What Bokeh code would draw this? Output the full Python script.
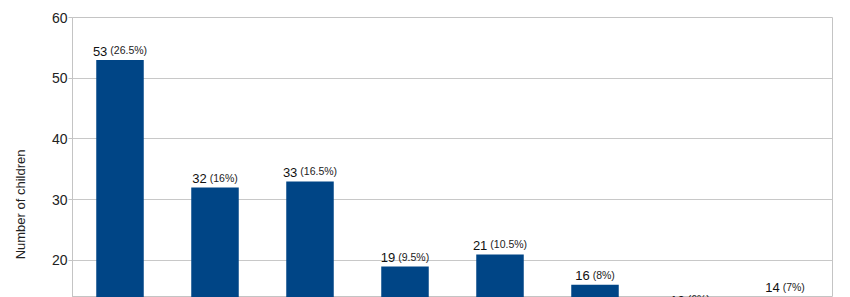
from bokeh.plotting import figure
from bokeh.models import ColumnDataSource, Range1d, SingleIntervalTicker
from bokeh.core.properties import value
from bokeh.embed import file_html
from bokeh.resources import INLINE

# ---- data ----
positions = [1, 2, 3, 4, 5, 6, 7, 8]
values = [53, 32, 33, 19, 21, 16, 12, 14]
pct_labels = ["(26.5%)", "(16%)", "(16.5%)", "(9.5%)", "(10.5%)", "(8%)", "(6%)", "(7%)"]
y_title = "Number of children"

FONT = "Liberation Sans"
NUM_SIZE = 13
PCT_SIZE = 10.5
CW = {"(": 0.333, ")": 0.333, ".": 0.278, "%": 0.889, " ": 0.278}


def text_w(s, size):
    return sum(CW.get(c, 0.556) for c in s) * size


gap = 3
num_off, pct_off = [], []
for v, pl in zip(values, pct_labels):
    nw = text_w(str(v), NUM_SIZE)
    pw = text_w(pl, PCT_SIZE)
    tot = nw + gap + pw
    num_off.append(-tot / 2 + nw)
    pct_off.append(-tot / 2 + nw + gap)

src = ColumnDataSource(dict(
    x=positions, top=values, num=[str(v) for v in values], pct=pct_labels,
    num_off=num_off, pct_off=pct_off,
))

p = figure(width=850, height=297, output_backend="svg", toolbar_location=None,
           x_range=Range1d(0.5, 8.5), y_range=Range1d(13.9, 60),
           min_border_left=72, min_border_right=18, min_border_top=17, min_border_bottom=0)
p.background_fill_color = "white"
p.border_fill_color = "white"
p.outline_line_color = "#c4c4c4"
p.outline_line_width = 1

p.vbar(x="x", top="top", bottom=0, width=0.5, source=src,
       fill_color="#004586", line_color=None)

p.text(x="x", y="top", text="num", source=src, x_offset="num_off", y_offset=-9,
       text_align="right", text_baseline="alphabetic",
       text_font=value(FONT), text_font_size=f"{NUM_SIZE}px", text_color="#111111")
p.text(x="x", y="top", text="pct", source=src, x_offset="pct_off", y_offset=-10,
       text_align="left", text_baseline="alphabetic",
       text_font=value(FONT), text_font_size=f"{PCT_SIZE}px", text_color="#222222")

p.xaxis.visible = False
p.xgrid.visible = False
p.ygrid.grid_line_color = "#c8c8c8"
p.ygrid.grid_line_width = 1

yax = p.yaxis[0]
yax.ticker = SingleIntervalTicker(interval=10)
yax.axis_line_color = "#c4c4c4"
yax.major_tick_line_color = "#c4c4c4"
yax.major_tick_out = 4
yax.major_tick_in = 0
yax.minor_tick_line_color = None
yax.major_label_text_font = FONT
yax.major_label_text_font_size = "14px"
yax.major_label_text_color = "#222222"
yax.major_label_standoff = 1
# trailing no-break spaces shift the title down to where it sits in the full chart
yax.axis_label = y_title + "\u00a0" * 26
yax.axis_label_text_font = FONT
yax.axis_label_text_font_size = "13px"
yax.axis_label_text_font_style = "normal"
yax.axis_label_text_color = "#222222"
yax.axis_label_standoff = 21

open("out.html", "w").write(file_html(p, INLINE))
